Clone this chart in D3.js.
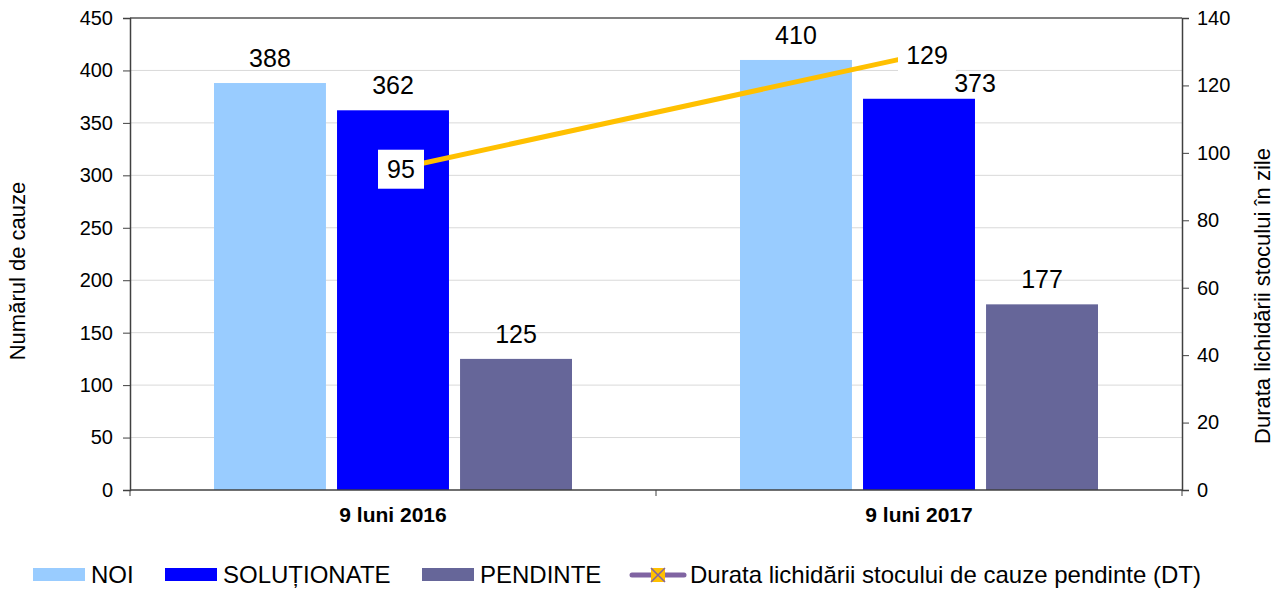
<!DOCTYPE html>
<html>
<head>
<meta charset="utf-8">
<script src="https://cdn.jsdelivr.net/npm/d3@7"></script>
<style>
  body { margin: 0; background: #fff; }
  text { font-family: Arial, "Liberation Sans", sans-serif; }
</style>
</head>
<body>
<div id="chart"></div>
<script>
const periods = ['9 luni 2016', '9 luni 2017'];
const seriesNames = ['NOI', 'SOLUȚIONATE', 'PENDINTE'];
const noi = [388, 410];
const solutionate = [362, 373];
const pendinte = [125, 177];
const durata = [95, 129];
const lineName = 'Durata lichidării stocului de cauze pendinte (DT)';
const leftTicks = [0, 50, 100, 150, 200, 250, 300, 350, 400, 450];
const rightTicks = [0, 20, 40, 60, 80, 100, 120, 140];

const colors = ['#99CCFF', '#0000FF', '#666699'];
const width = 1286, height = 589;
const margin = { top: 18, right: 104, bottom: 99, left: 130 };
const innerW = width - margin.left - margin.right;
const innerH = height - margin.top - margin.bottom;
const FONT = 'Arial, "Liberation Sans", sans-serif';

// label nudges so the 373 label clears the line label (as in the original)
const labelNudge = { '9 luni 2017|SOLUȚIONATE': [56, 9] };

const svg = d3.select('#chart').append('svg')
  .attr('width', width).attr('height', height);
const g = svg.append('g').attr('transform', `translate(${margin.left},${margin.top})`);

const x0 = d3.scaleBand().domain(periods).range([0, innerW]);
const x1 = d3.scaleBand().domain(seriesNames).range([0, 358]).paddingInner(0.09);
const y = d3.scaleLinear().domain([0, 450]).range([innerH, 0]);
const y2 = d3.scaleLinear().domain([0, 140]).range([innerH, 0]);

// gridlines
g.append('g').selectAll('line')
  .data(leftTicks.filter(t => t > 0))
  .join('line')
  .attr('x1', 0).attr('x2', innerW)
  .attr('y1', d => y(d)).attr('y2', d => y(d))
  .attr('stroke', d => d === 450 ? '#808080' : '#d9d9d9')
  .attr('stroke-width', d => d === 450 ? 2 : 1);

const groupOffset = (x0.bandwidth() - 358) / 2;
const data = periods.map((p, i) => ({ period: p, values: [noi[i], solutionate[i], pendinte[i]] }));

const groups = g.append('g').selectAll('g')
  .data(data)
  .join('g')
  .attr('transform', d => `translate(${x0(d.period) + groupOffset},0)`);

const barItems = d => d.values.map((v, j) => ({ period: d.period, name: seriesNames[j], v, j }));

groups.selectAll('rect')
  .data(barItems)
  .join('rect')
  .attr('x', d => x1(d.name))
  .attr('width', x1.bandwidth())
  .attr('y', d => y(d.v))
  .attr('height', d => innerH - y(d.v))
  .attr('fill', d => colors[d.j]);

groups.selectAll('text.val')
  .data(barItems)
  .join('text')
  .attr('class', 'val')
  .attr('x', d => x1(d.name) + x1.bandwidth() / 2 + (labelNudge[d.period + '|' + d.name] || [0, 0])[0])
  .attr('y', d => y(d.v) - 16 + (labelNudge[d.period + '|' + d.name] || [0, 0])[1])
  .attr('text-anchor', 'middle')
  .attr('font-size', 25)
  .attr('fill', '#000')
  .text(d => d.v);

// axes
const leftAxis = g.append('g')
  .call(d3.axisLeft(y).tickValues(leftTicks).tickSize(7).tickPadding(10));
const rightAxis = g.append('g')
  .attr('transform', `translate(${innerW},0)`)
  .call(d3.axisRight(y2).tickValues(rightTicks).tickSize(7).tickPadding(8));
const bottomAxis = g.append('g')
  .attr('transform', `translate(0,${innerH})`);
bottomAxis.append('line').attr('x1', 0).attr('x2', innerW).attr('stroke', '#404040').attr('stroke-width', 1.5);
bottomAxis.selectAll('line.tk')
  .data([0, innerW / 2, innerW])
  .join('line')
  .attr('class', 'tk')
  .attr('x1', d => d).attr('x2', d => d)
  .attr('y1', 0).attr('y2', 6)
  .attr('stroke', '#404040');
bottomAxis.selectAll('text')
  .data(periods)
  .join('text')
  .attr('x', d => x0(d) + x0.bandwidth() / 2)
  .attr('y', 32)
  .attr('text-anchor', 'middle')
  .attr('font-size', 21)
  .attr('font-weight', 'bold')
  .attr('fill', '#000')
  .text(d => d);

[leftAxis, rightAxis].forEach(a => {
  a.select('.domain').attr('stroke', '#404040').attr('stroke-width', 1.5);
  a.selectAll('.tick line').attr('stroke', '#404040');
  a.selectAll('.tick text').attr('font-size', 20).attr('fill', '#000').attr('font-family', FONT);
});

// line series
const linePts = periods.map((p, i) => ({ x: x0(p) + x0.bandwidth() / 2, v: durata[i] }));
g.append('path')
  .datum(linePts)
  .attr('d', d3.line().x(d => d.x).y(d => y2(d.v)))
  .attr('fill', 'none')
  .attr('stroke', '#FFC000')
  .attr('stroke-width', 5);

const lineLabels = g.append('g').selectAll('g')
  .data(linePts)
  .join('g')
  .attr('transform', d => `translate(${d.x + 8},${y2(d.v)})`);
lineLabels.append('rect')
  .attr('x', d => String(d.v).length > 2 ? -29 : -23)
  .attr('y', -20)
  .attr('width', d => String(d.v).length > 2 ? 58 : 46)
  .attr('height', 39)
  .attr('fill', '#fff');
lineLabels.append('text')
  .attr('text-anchor', 'middle')
  .attr('dy', '0.35em')
  .attr('font-size', 25)
  .attr('fill', '#000')
  .text(d => d.v);

// axis titles
svg.append('text')
  .attr('transform', `translate(25,${margin.top + innerH / 2 + 17}) rotate(-90)`)
  .attr('text-anchor', 'middle')
  .attr('font-size', 22)
  .text('Numărul de cauze');
svg.append('text')
  .attr('transform', `translate(1270,${margin.top + innerH / 2 + 42}) rotate(-90)`)
  .attr('text-anchor', 'middle')
  .attr('font-size', 22)
  .text('Durata lichidării stocului în zile');

// legend
const legendY = 575;
const legend = svg.append('g');
const legendX = [33, 165, 422];
seriesNames.forEach((name, i) => {
  legend.append('rect')
    .attr('x', legendX[i]).attr('y', legendY - 7).attr('width', 52).attr('height', 13)
    .attr('fill', colors[i]);
  legend.append('text')
    .attr('x', legendX[i] + 58).attr('y', legendY)
    .attr('dy', '0.35em')
    .attr('font-size', 24)
    .text(name);
});
legend.append('line')
  .attr('x1', 632).attr('x2', 684).attr('y1', legendY).attr('y2', legendY)
  .attr('stroke', '#8064A2').attr('stroke-width', 5).attr('stroke-linecap', 'round');
legend.append('rect')
  .attr('x', 651).attr('y', legendY - 7).attr('width', 14).attr('height', 14)
  .attr('fill', '#FFC000');
legend.append('path')
  .attr('d', `M651,${legendY - 7}L665,${legendY + 7}M665,${legendY - 7}L651,${legendY + 7}`)
  .attr('stroke', '#8064A2').attr('stroke-width', 1.5);
legend.append('text')
  .attr('x', 690).attr('y', legendY)
  .attr('dy', '0.35em')
  .attr('font-size', 24)
  .text(lineName);
</script>
</body>
</html>
